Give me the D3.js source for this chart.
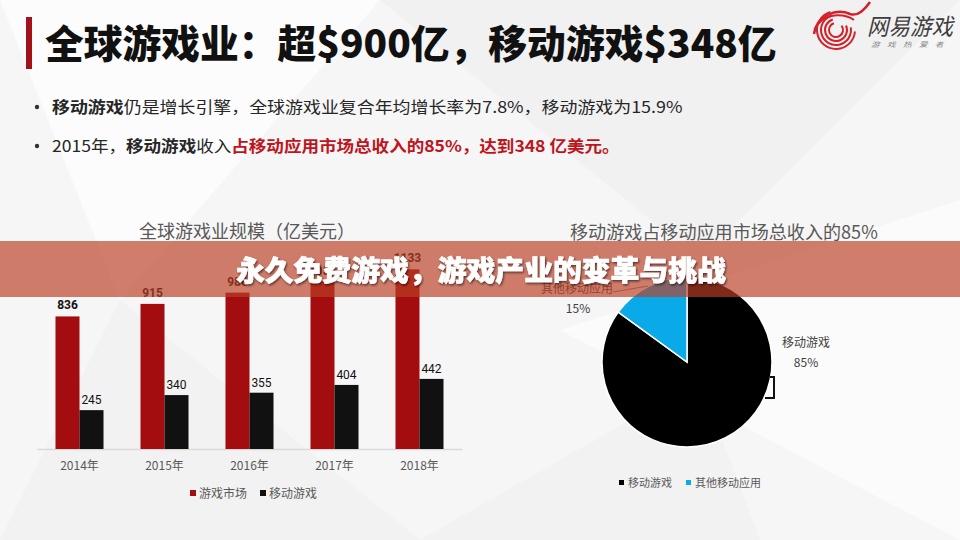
<!DOCTYPE html>
<html>
<head>
<meta charset="utf-8">
<script src="https://cdn.jsdelivr.net/npm/d3@7"></script>
<style>
  body { margin: 0; background: #f5f5f5; }
  svg { display: block; font-family: "Noto Sans CJK SC", "Noto Sans", sans-serif; }
</style>
</head>
<body>
<div id="chart"></div>
<script>
// data
var years = ["2014年", "2015年", "2016年", "2017年", "2018年"];
var marketValues = [836, 915, 986, 1055, 1133];
var mobileValues = [245, 340, 355, 404, 442];
var barSeries = ["游戏市场", "移动游戏"];

var pieNames = ["移动游戏", "其他移动应用"];
var pieValues = [85, 15];

var W = 960, H = 540;
var red = "#a30d0f", dark = "#111", blue = "#0aaae8", grey = "#595959";

var svg = d3.select("#chart").append("svg")
  .attr("width", W).attr("height", H);

var defs = svg.append("defs");
var shadow = defs.append("filter").attr("id", "shadow")
  .attr("x", "-10%").attr("y", "-30%").attr("width", "120%").attr("height", "160%");
shadow.append("feDropShadow").attr("dx", 1).attr("dy", 1.5)
  .attr("stdDeviation", 1.2).attr("flood-color", "#000").attr("flood-opacity", 0.6);

// background with faint facets
svg.append("rect").attr("width", W).attr("height", H).attr("fill", "#f6f6f6");
var facets = [
  ["0,0 380,0 120,300", "#ffffff", 0.7],
  ["380,0 960,0 700,260", "#efefef", 0.6],
  ["120,300 0,540 420,540", "#eeeeee", 0.5],
  ["560,330 960,200 960,540", "#ffffff", 0.6],
  ["420,540 700,380 760,540", "#f0f0f0", 0.6]
];
svg.selectAll(".facet").data(facets).enter().append("polygon")
  .attr("points", function (d) { return d[0]; })
  .attr("fill", function (d) { return d[1]; })
  .attr("opacity", function (d) { return d[2]; });

// stretch a text element to a target width from its start x
function fit(sel, x, w) {
  var len = sel.node().getComputedTextLength();
  sel.attr("transform", "translate(" + x + ",0) scale(" + (w / len) + ",1) translate(" + (-x) + ",0)");
}

// header
svg.append("rect").attr("x", 26).attr("y", 17).attr("width", 6).attr("height", 52).attr("fill", "#a3121a");
var title = svg.append("text").attr("x", 45).attr("y", 58)
  .attr("font-size", 39).attr("font-weight", 900).attr("fill", "#111")
  .text("全球游戏业：超$900亿，移动游戏$348亿");
fit(title, 45, 732);

// logo
var logo = svg.append("g").attr("transform", "translate(836,30)");
[6, 10, 14, 18].forEach(function (r, i) {
  logo.append("path")
    .attr("d", d3.arc()({ innerRadius: r, outerRadius: r + 2, startAngle: 0.9 + i * 0.25, endAngle: 2 * Math.PI - 0.3 }))
    .attr("fill", "#d3222a");
});
logo.append("path").attr("d", "M-22,4 C-20,-14 0,-22 14,-16 C22,-13 30,-22 34,-28")
  .attr("fill", "none").attr("stroke", "#d3222a").attr("stroke-width", 2.5);
logo.append("path").attr("d", "M-18,-6 C-8,-18 10,-16 18,-10")
  .attr("fill", "none").attr("stroke", "#d3222a").attr("stroke-width", 2);
var logoText = svg.append("text").attr("x", 867).attr("y", 35).attr("font-size", 23)
  .attr("font-style", "italic").attr("fill", "#3d3d3d").text("网易游戏");
fit(logoText, 867, 86);
var logoSub = svg.append("text").attr("x", 871).attr("y", 47).attr("font-size", 7)
  .attr("font-style", "italic").attr("fill", "#888").attr("letter-spacing", 6).text("游戏热爱者");
fit(logoSub, 871, 80);

// bullets
svg.append("circle").attr("cx", 37).attr("cy", 107).attr("r", 2.2).attr("fill", "#333");
svg.append("circle").attr("cx", 37).attr("cy", 146).attr("r", 2.2).attr("fill", "#333");
var b1 = svg.append("text").attr("x", 52).attr("y", 113).attr("font-size", 16).attr("fill", "#262626");
b1.append("tspan").attr("font-weight", 700).text("移动游戏");
b1.append("tspan").text("仍是增长引擎，全球游戏业复合年均增长率为7.8%，移动游戏为15.9%");
fit(b1, 52, 631);
var b2 = svg.append("text").attr("x", 52).attr("y", 152).attr("font-size", 16).attr("fill", "#262626");
b2.append("tspan").text("2015年，");
b2.append("tspan").attr("font-weight", 700).text("移动游戏");
b2.append("tspan").text("收入");
b2.append("tspan").attr("font-weight", 700).attr("fill", "#c0141c").text("占移动应用市场总收入的85%，达到348 亿美元。");
fit(b2, 52, 568);

// bar chart
var x = d3.scaleBand().domain(years).range([37, 462]).padding(0);
var y = d3.scaleLinear().domain([0, 1200]).range([449, 258.7]);
var bw = 24;

var t1 = svg.append("text").attr("x", 139).attr("y", 238).attr("font-size", 18).attr("fill", grey)
  .text("全球游戏业规模（亿美元）");
fit(t1, 139, 216);

svg.append("g").attr("transform", "translate(0,449)")
  .call(d3.axisBottom(x).tickSize(0).tickPadding(12))
  .call(function (g) {
    g.select(".domain").attr("stroke", "#d9d9d9").attr("stroke-width", 1.5);
    g.selectAll("text").attr("font-size", 12).attr("fill", grey)
      .attr("font-family", "\"Noto Sans CJK SC\", sans-serif");
  });

svg.selectAll(".bar-market").data(marketValues).enter().append("rect")
  .attr("x", function (d, i) { return x(years[i]) + x.bandwidth() / 2 - bw; })
  .attr("y", function (d) { return y(d); })
  .attr("width", bw).attr("height", function (d) { return y(0) - y(d); })
  .attr("fill", red);
svg.selectAll(".bar-mobile").data(mobileValues).enter().append("rect")
  .attr("x", function (d, i) { return x(years[i]) + x.bandwidth() / 2; })
  .attr("y", function (d) { return y(d); })
  .attr("width", bw).attr("height", function (d) { return y(0) - y(d); })
  .attr("fill", dark);

svg.selectAll(".lab-market").data(marketValues).enter().append("text")
  .attr("x", function (d, i) { return x(years[i]) + x.bandwidth() / 2 - bw / 2; })
  .attr("y", function (d) { return y(d) - 7; })
  .attr("text-anchor", "middle").attr("font-size", 12).attr("font-weight", 700)
  .attr("font-family", "Roboto, sans-serif").attr("fill", "#111")
  .text(function (d) { return d; });
svg.selectAll(".lab-mobile").data(mobileValues).enter().append("text")
  .attr("x", function (d, i) { return x(years[i]) + x.bandwidth() / 2 + bw / 2; })
  .attr("y", function (d) { return y(d) - 6; })
  .attr("text-anchor", "middle").attr("font-size", 12)
  .attr("font-family", "Roboto, sans-serif").attr("fill", "#111")
  .text(function (d) { return d; });

// bar legend
var barLegend = svg.append("g");
[[190, red], [260, dark]].forEach(function (p, i) {
  barLegend.append("rect").attr("x", p[0]).attr("y", 490).attr("width", 6).attr("height", 6).attr("fill", p[1]);
  barLegend.append("text").attr("x", p[0] + 9).attr("y", 498).attr("font-size", 12).attr("fill", grey).text(barSeries[i]);
});

// pie chart
var t2 = svg.append("text").attr("x", 570).attr("y", 239).attr("font-size", 18).attr("fill", grey)
  .text("移动游戏占移动应用市场总收入的85%");
fit(t2, 570, 308);

var pie = d3.pie().sort(null)(pieValues);
var arc = d3.arc().innerRadius(0).outerRadius(85);
var pieG = svg.append("g").attr("transform", "translate(687,362)");
pieG.selectAll("path").data(pie).enter().append("path")
  .attr("d", arc)
  .attr("fill", function (d, i) { return i === 0 ? "#000" : blue; })
  .attr("stroke", "#fff").attr("stroke-width", 1.5);

// pie labels and leaders
svg.append("path").attr("d", "M770,377 H774 V398 H765")
  .attr("fill", "none").attr("stroke", "#111").attr("stroke-width", 2);
svg.append("text").attr("x", 806).attr("y", 347).attr("text-anchor", "middle")
  .attr("font-size", 12).attr("fill", "#404040").text(pieNames[0]);
svg.append("text").attr("x", 806).attr("y", 367).attr("text-anchor", "middle")
  .attr("font-size", 12).attr("fill", "#404040").text(pieValues[0] + "%");
svg.append("path").attr("d", "M613,292 L648,286")
  .attr("fill", "none").attr("stroke", "#7f7f7f").attr("stroke-width", 1);
svg.append("text").attr("x", 577).attr("y", 293).attr("text-anchor", "middle")
  .attr("font-size", 12).attr("fill", "#404040").text(pieNames[1]);
svg.append("text").attr("x", 578).attr("y", 313).attr("text-anchor", "middle")
  .attr("font-size", 12).attr("fill", "#404040").text(pieValues[1] + "%");

// pie legend
var pieLegend = svg.append("g");
[[619, "#000"], [686, blue]].forEach(function (p, i) {
  pieLegend.append("rect").attr("x", p[0]).attr("y", 480).attr("width", 5).attr("height", 5).attr("fill", p[1]);
  pieLegend.append("text").attr("x", p[0] + 9).attr("y", 487).attr("font-size", 11).attr("fill", grey).text(pieNames[i]);
});

// overlay banner
svg.append("rect").attr("x", 0).attr("y", 241).attr("width", W).attr("height", 56)
  .attr("fill", "rgb(188,62,38)").attr("fill-opacity", 0.67);
var banner = svg.append("text").attr("x", 236).attr("y", 281)
  .attr("font-size", 28).attr("font-weight", 900).attr("fill", "#fff")
  .attr("stroke", "#fff").attr("stroke-width", 0.6)
  .attr("filter", "url(#shadow)")
  .text("永久免费游戏，游戏产业的变革与挑战");
fit(banner, 236, 490);
</script>
</body>
</html>
